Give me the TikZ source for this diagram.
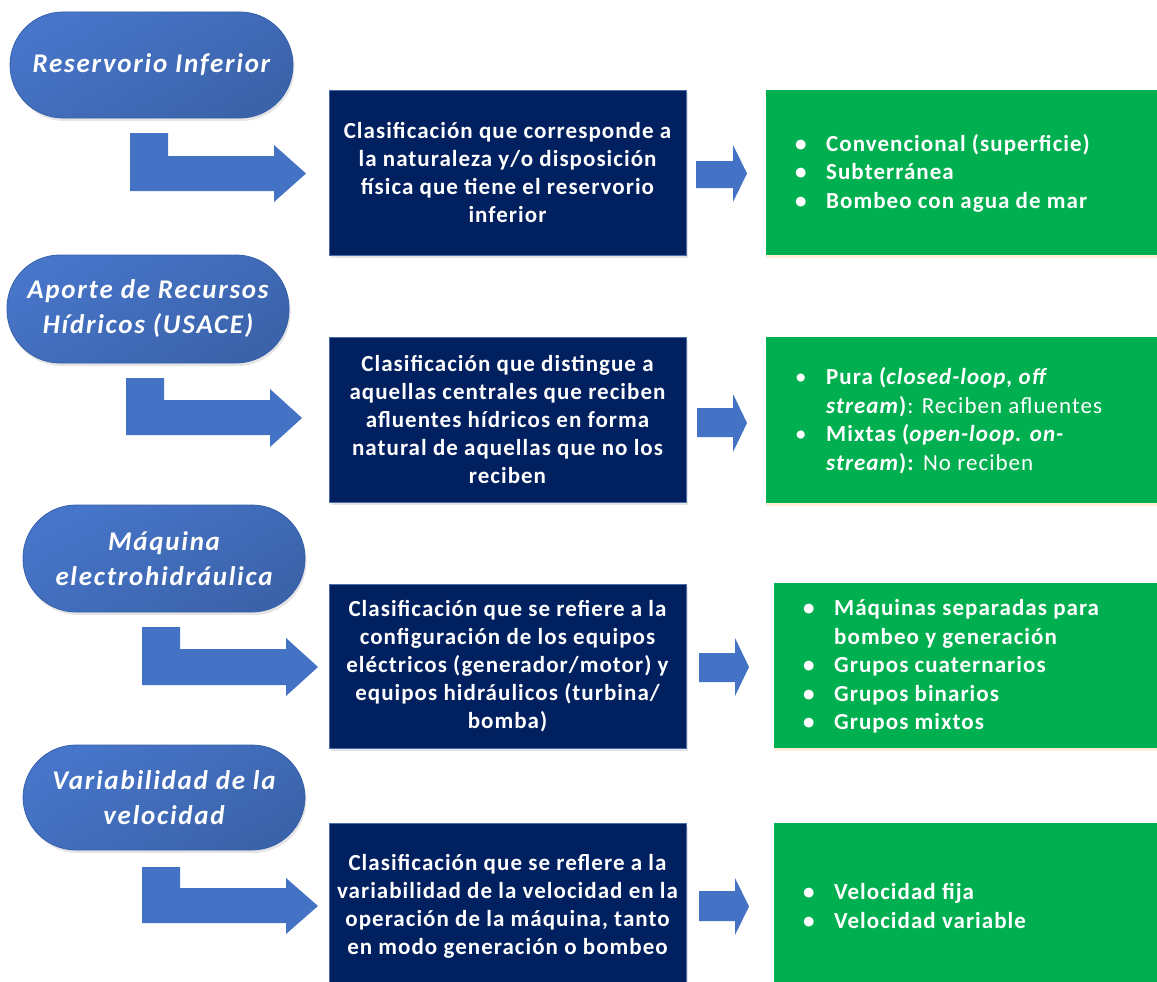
\documentclass[tikz,border=0pt]{standalone}
\usepackage{fontspec}
\setmainfont{Carlito}
\usetikzlibrary{shadows}
\definecolor{ovalA}{HTML}{4775C9}
\definecolor{ovalB}{HTML}{3B63AA}
\definecolor{ovalLine}{HTML}{3560AA}
\definecolor{navy}{HTML}{002060}
\definecolor{navyLine}{HTML}{4A6DAA}
\definecolor{grn}{HTML}{00B050}
\definecolor{arr}{HTML}{4472C4}
\newcommand\bul{\makebox[31pt][l]{\textbullet}}
\newcommand\ind{\hspace*{31pt}}
\tikzset{
  ovalbox/.style={rectangle, rounded corners=53pt, minimum width=282pt, minimum height=106pt,
    draw=ovalLine, line width=0.8pt, top color=ovalA, bottom color=ovalB, shading angle=30,
    text=white, align=center, inner sep=0pt,
    font=\fontsize{27}{35}\selectfont\bfseries\itshape\addfontfeatures{LetterSpace=6.5},
    drop shadow={opacity=0.2, shadow xshift=1.5pt, shadow yshift=-3pt}},
  darkbox/.style={rectangle, fill=navy, draw=navyLine, line width=0.8pt, minimum width=357pt,
    text=white, align=center, inner sep=0pt,
    font=\fontsize{23}{28}\selectfont\bfseries\addfontfeatures{LetterSpace=4.5},
    drop shadow={opacity=0.2, shadow xshift=2pt, shadow yshift=-3pt}},
  greenbox/.style={rectangle, fill=grn, draw=none, inner sep=0pt,
    drop shadow={fill=orange!40, opacity=0.35, shadow xshift=0pt, shadow yshift=-3pt}},
  greentext/.style={text=white, align=left, anchor=west, inner sep=0pt,
    font=\fontsize{23}{28.5}\selectfont\addfontfeatures{LetterSpace=4.5}},
  blockarrow/.style={fill=arr, draw=none}
}
\begin{document}
\begin{tikzpicture}[x=1pt,y=-1pt]
\fill[white] (0,0) rectangle (1157,982);
\clip (0,0) rectangle (1157,982);

% ---------- ovals ----------
\node[ovalbox, minimum width=283pt] (o1) at (151.5,65) {Reservorio Inferior};
\node[ovalbox, minimum height=108pt] (o2) at (148,309) {Aporte de Recursos\\Hídricos (USACE)};
\node[ovalbox, minimum height=107pt] (o3) at (164,558.5) {Máquina\\electrohidráulica};
\node[ovalbox, minimum height=105pt] (o4) at (164,797.5) {Variabilidad de la\\velocidad};

% ---------- bent arrows ----------
\fill[blockarrow] (130,133) -- (168,133) -- (168,156) -- (274,156) -- (274,145) -- (306,173.5) -- (274,202) -- (274,191) -- (130,191) -- cycle;
\fill[blockarrow] (126,378) -- (164,378) -- (164,400) -- (270,400) -- (270,389) -- (302,418) -- (270,447) -- (270,435) -- (126,435) -- cycle;
\fill[blockarrow] (142,627) -- (180,627) -- (180,649) -- (286,649) -- (286,638) -- (318,667) -- (286,696) -- (286,685) -- (142,685) -- cycle;
\fill[blockarrow] (142,867) -- (180,867) -- (180,888) -- (286,888) -- (286,878) -- (318,906) -- (286,934) -- (286,923) -- (142,923) -- cycle;

% ---------- dark boxes ----------
\node[darkbox, minimum height=165pt] (d1) at (507.5,172.5)
  {Clasificación que corresponde a\\la naturaleza y/o disposición\\física que tiene el reservorio\\inferior};
\node[darkbox, minimum height=165pt] (d2) at (507.5,419.5)
  {Clasificación que distingue a\\aquellas centrales que reciben\\afluentes hídricos en forma\\natural de aquellas que no los\\reciben};
\node[darkbox, minimum height=164pt] (d3) at (507.5,666)
  {Clasificación que se refiere a la\\configuración de los equipos\\eléctricos (generador/motor) y\\equipos hidráulicos (turbina/\\bomba)};
\node[darkbox, minimum height=167pt] (d4) at (507.5,906.5)
  {Clasificación que se reflere a la\\variabilidad de la velocidad en la\\operación de la máquina, tanto\\en modo generación o bombeo};

% ---------- small arrows ----------
\fill[blockarrow] (696,161) -- (733,161) -- (733,145) -- (747,173.5) -- (733,202) -- (733,188) -- (696,188) -- cycle;
\fill[blockarrow] (697,408) -- (733,408) -- (733,394) -- (747,423) -- (733,452) -- (733,437) -- (697,437) -- cycle;
\fill[blockarrow] (699,653) -- (735,653) -- (735,638) -- (749,667) -- (735,696) -- (735,682) -- (699,682) -- cycle;
\fill[blockarrow] (699,891) -- (735,891) -- (735,878) -- (749,906.5) -- (735,935) -- (735,921) -- (699,921) -- cycle;

% ---------- green boxes ----------
\node[greenbox, minimum width=394pt, minimum height=165pt] (g1) at (963,172.5) {};
\node[greenbox, minimum width=394pt, minimum height=166pt] (g2) at (963,420) {};
\node[greenbox, minimum width=386pt, minimum height=165pt] (g3) at (967,665.5) {};
\node[greenbox, minimum width=386pt, minimum height=167pt] (g4) at (967,906.5) {};

\node[greentext] (t1) at (795,173)
  {\bfseries\bul Convencional (superficie)\\\bfseries\bul Subterránea\\\bfseries\bul Bombeo con agua de mar};
\node[greentext] (t2) at (795,420.5)
  {\bul\textbf{Pura (\textit{closed-loop, off}}\\\ind\textbf{\textit{stream})}: Reciben afluentes\\\bul\textbf{Mixtas (\textit{open-loop. on-}}\\\ind\textbf{\textit{stream}):} No reciben};
\node[greentext] (t3) at (803,666.5)
  {\bfseries\bul Máquinas separadas para\\\bfseries\ind bombeo y generación\\\bfseries\bul Grupos cuaternarios\\\bfseries\bul Grupos binarios\\\bfseries\bul Grupos mixtos};
\node[greentext] (t4) at (803,906)
  {\bfseries\bul Velocidad fija\\\bfseries\bul Velocidad variable};
\end{tikzpicture}
\end{document}
